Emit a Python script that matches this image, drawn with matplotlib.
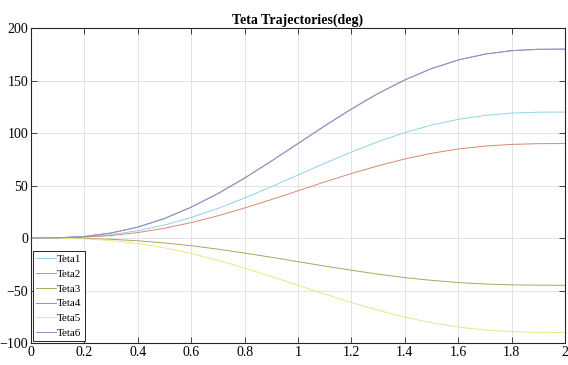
import numpy as np
import matplotlib.pyplot as plt

x = [0, 0.1, 0.2, 0.3, 0.4, 0.5, 0.6, 0.7, 0.8, 0.9, 1.0,
     1.1, 1.2, 1.3, 1.4, 1.5, 1.6, 1.7, 1.8, 1.9, 2.0]

teta1 = [0, 0.1, 1.0, 3.2, 7.0, 12.4, 19.6, 28.2, 38.1, 48.8, 60,
         71.2, 81.9, 91.8, 100.4, 107.6, 113.0, 116.8, 119.0, 119.9, 120]
teta2 = [0, 0.1, 0.8, 2.4, 5.2, 9.3, 14.7, 21.2, 28.6, 36.6, 45,
         53.4, 61.4, 68.8, 75.3, 80.7, 84.8, 87.6, 89.2, 89.9, 90]
teta3 = [0, -0.1, -0.4, -1.2, -2.6, -4.7, -7.3, -10.6, -14.3, -18.3, -22.5,
         -26.7, -30.7, -34.4, -37.7, -40.3, -42.4, -43.8, -44.6, -44.9, -45]
teta4 = [0, 0.2, 1.5, 4.8, 10.4, 18.6, 29.4, 42.3, 57.1, 73.2, 90,
         106.8, 122.9, 137.7, 150.6, 161.4, 169.6, 175.2, 178.5, 179.8, 180]
teta5 = [0, -0.1, -0.8, -2.4, -5.2, -9.3, -14.7, -21.2, -28.6, -36.6, -45,
         -53.4, -61.4, -68.8, -75.3, -80.7, -84.8, -87.6, -89.2, -89.9, -90]
teta6 = [0, 0.2, 1.5, 4.8, 10.4, 18.6, 29.4, 42.3, 57.1, 73.2, 90,
         106.8, 122.9, 137.7, 150.6, 161.4, 169.6, 175.2, 178.5, 179.8, 180]

labels = ["Teta1", "Teta2", "Teta3", "Teta4", "Teta5", "Teta6"]
colors = ["#8fd4e2", "#d48a72", "#a8a860", "#a88ab8", "#ece48a", "#8a98c0"]
xticklabels = ["0", "0.2", "0.4", "0.6", "0.8", "1", "1.2", "1.4", "1.6", "1.8", "2"]

plt.rcParams['font.family'] = ['Liberation Serif', 'DejaVu Serif']

fig = plt.figure(figsize=(5.68, 3.65), dpi=100)
ax = fig.add_axes([0.0546, 0.0603, 0.94, 0.8627])

for series, name, c in zip([teta1, teta2, teta3, teta4, teta5, teta6], labels, colors):
    ax.plot(x, series, color=c, linewidth=0.7, label=name)

ax.set_xlim(0, 2)
ax.set_ylim(-100, 200)
ax.set_xticks(np.arange(0, 2.01, 0.2))
ax.set_xticklabels(xticklabels)
ax.set_yticks([-100, -50, 0, 50, 100, 150, 200])
ax.tick_params(direction='in', top=True, right=True, labelsize=10,
               length=4, width=0.6, color='#262626', pad=2)
ax.grid(True, color='#dedede', linewidth=0.6)
for s in ax.spines.values():
    s.set_color('#262626')
    s.set_linewidth(0.8)

ax.set_title("Teta Trajectories(deg)", fontsize=10, fontweight='bold', pad=3)

leg = ax.legend(loc='lower left', fontsize=8, fancybox=False, edgecolor='#262626',
                framealpha=1, borderaxespad=0.15, handlelength=1.8,
                labelspacing=0.45, borderpad=0.3, handletextpad=0.1)
leg.get_frame().set_linewidth(0.7)

fig.savefig("out.png", dpi=100)
